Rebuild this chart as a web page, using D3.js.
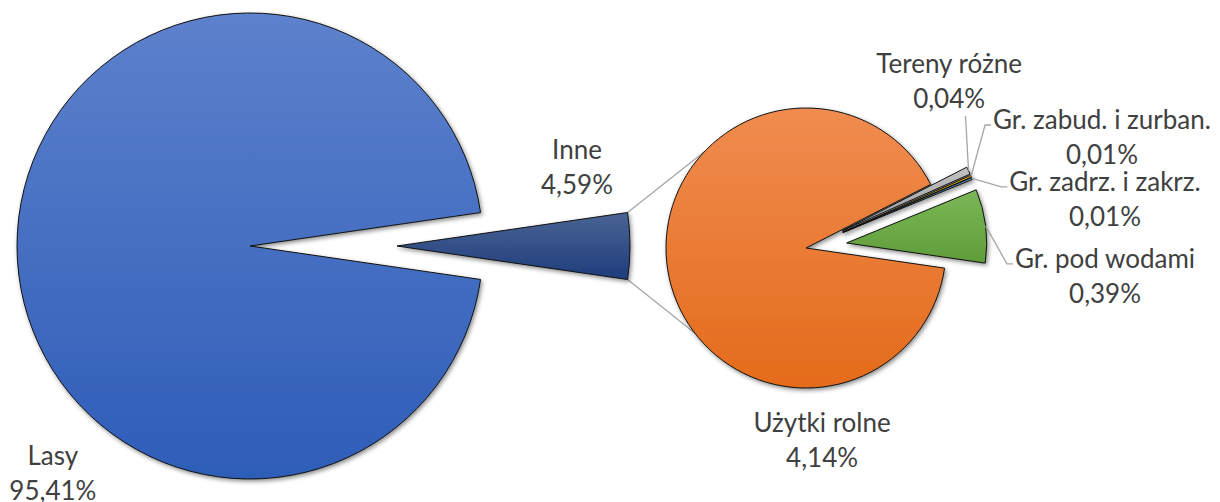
<!DOCTYPE html>
<html>
<head>
<meta charset="utf-8">
<script src="https://cdn.jsdelivr.net/npm/d3@7"></script>
<style>
html, body { margin: 0; padding: 0; background: #fff; }
svg { display: block; font-family: Lato, "Open Sans", sans-serif; }
</style>
</head>
<body>
<svg id="chart" width="1220" height="502"></svg>
<script>
// main pie
var mainNames = ["Lasy", "Inne"];
var mainValues = [95.41, 4.59];

// split of "Inne" shown in the second pie
var subNames = ["Użytki rolne", "Tereny różne", "Gr. zabud. i zurban.", "Gr. zadrz. i zakrz.", "Gr. pod wodami"];
var subValues = [4.14, 0.04, 0.01, 0.01, 0.39];

// gradient stops (top, bottom)
var mainColors = [["#5d81cc", "#2e5db8"], ["#4a6394", "#1e3d7c"]];
var subColors = [["#f08c50", "#e46b1b"], ["#c2c2c2", "#9a9a9a"], ["#ffc000", "#e0a800"],
                 ["#5b9bd5", "#3c78b4"], ["#7bb757", "#5f9d3a"]];

// layout
var mainCenter = [250, 246], mainR = 233, mainExplode = [0, 147];
var subCenter = [806, 248], subR = 140, subExplode = [0, 40, 40, 40, 41];
var connectorAngles = [313.6, 232.6]; // where the grey lines meet the second pie
// label anchor: polar position (deg, px) from the pie centre
var mainLabelPos = [[222, 294.6], [75.1, 338.4]];
var subLabelPos = [[175, 184.7], [39.3, 226], [68.1, 319], [79.2, 304.4], [93.8, 299.7]];
var subLeader = [null, "bottom", "left", "left", "left"];

var lineGap = 35;
var fmt = function(v) { return d3.format(".2f")(v).replace(".", ",") + "%"; };
var rad = Math.PI / 180;

var svg = d3.select("#chart");
var defs = svg.append("defs");

var shadow = defs.append("filter").attr("id", "shadow")
    .attr("x", "-20%").attr("y", "-20%").attr("width", "140%").attr("height", "140%");
shadow.append("feDropShadow")
    .attr("dx", 1.5).attr("dy", 2).attr("stdDeviation", 2.2)
    .attr("flood-color", "#000").attr("flood-opacity", 0.45);

function gradient(id, stops) {
    var g = defs.append("linearGradient").attr("id", id)
        .attr("x1", 0).attr("y1", 0).attr("x2", 0).attr("y2", 1);
    g.append("stop").attr("offset", "0%").attr("stop-color", stops[0]);
    g.append("stop").attr("offset", "100%").attr("stop-color", stops[1]);
    return "url(#" + id + ")";
}

// both pies start where "Inne" ends, so "Inne" sits centred on the right
var start = Math.PI / 2 + (mainValues[1] / d3.sum(mainValues)) * Math.PI;

var pie = d3.pie().sort(null).value(function(d) { return d; })
    .startAngle(start).endAngle(start + 2 * Math.PI);

var mainArcs = pie(mainValues);
var subArcs = pie(subValues);

function offset(d, dist) {
    var a = (d.startAngle + d.endAngle) / 2;
    return [dist * Math.sin(a), -dist * Math.cos(a)];
}
function polar(c, deg, r) {
    return [c[0] + r * Math.sin(deg * rad), c[1] - r * Math.cos(deg * rad)];
}

var mainArc = d3.arc().innerRadius(0).outerRadius(mainR);
var subArc = d3.arc().innerRadius(0).outerRadius(subR);

// connector lines from "Inne" to the second pie
var inne = mainArcs[1];
var inneOff = offset(inne, mainExplode[1]);
var inneCorners = [inne.startAngle, inne.endAngle].map(function(a) {
    return [mainCenter[0] + inneOff[0] + mainR * Math.sin(a), mainCenter[1] + inneOff[1] - mainR * Math.cos(a)];
});
// top corner is the one with the smaller y
inneCorners.sort(function(a, b) { return a[1] - b[1]; });

svg.append("g").selectAll("line")
    .data(connectorAngles)
    .join("line")
    .attr("x1", function(d, i) { return inneCorners[i][0]; })
    .attr("y1", function(d, i) { return inneCorners[i][1]; })
    .attr("x2", function(d) { return polar(subCenter, d, subR)[0]; })
    .attr("y2", function(d) { return polar(subCenter, d, subR)[1]; })
    .attr("stroke", "#a6a6a6").attr("stroke-width", 1.3);

// main pie slices
svg.append("g").selectAll("path")
    .data(mainArcs)
    .join("path")
    .attr("transform", function(d, i) {
        var o = offset(d, mainExplode[i]);
        return "translate(" + (mainCenter[0] + o[0]) + "," + (mainCenter[1] + o[1]) + ")";
    })
    .attr("d", mainArc)
    .attr("fill", function(d, i) { return gradient("gm" + i, mainColors[i]); })
    .attr("stroke", "#111").attr("stroke-width", 1)
    .attr("filter", "url(#shadow)");

// second pie slices
svg.append("g").selectAll("path")
    .data(subArcs)
    .join("path")
    .attr("transform", function(d, i) {
        var o = offset(d, subExplode[i]);
        return "translate(" + (subCenter[0] + o[0]) + "," + (subCenter[1] + o[1]) + ")";
    })
    .attr("d", subArc)
    .attr("fill", function(d, i) { return gradient("gs" + i, subColors[i]); })
    .attr("stroke", "#111").attr("stroke-width", 1)
    .attr("filter", "url(#shadow)");

// labels
function addLabel(g, pos, name, value) {
    var t = g.append("text")
        .attr("text-anchor", "middle")
        .attr("fill", "#404040")
        .style("font-size", "26px");
    t.append("tspan").attr("x", pos[0]).attr("y", pos[1]).text(name);
    t.append("tspan").attr("x", pos[0]).attr("y", pos[1] + lineGap).text(fmt(value));
    return t;
}

var labels = svg.append("g");
mainNames.forEach(function(n, i) {
    addLabel(labels, polar(mainCenter, mainLabelPos[i][0], mainLabelPos[i][1]), n, mainValues[i]);
});

var leaders = svg.insert("g", "g:last-child");
subNames.forEach(function(n, i) {
    var pos = polar(subCenter, subLabelPos[i][0], subLabelPos[i][1]);
    var t = addLabel(labels, pos, n, subValues[i]);
    if (!subLeader[i]) return;

    var d = subArcs[i];
    var o = offset(d, subExplode[i]);
    var mid = (d.startAngle + d.endAngle) / 2;
    var s = [subCenter[0] + o[0] + subR * Math.sin(mid), subCenter[1] + o[1] - subR * Math.cos(mid)];
    var box = t.node().getBBox();
    var pts;
    if (subLeader[i] === "bottom") {
        pts = [s, [s[0] - 3, box.y + box.height + 2]];
    } else {
        var y = pos[1] - 4;
        pts = [s, [box.x - 8, y], [box.x - 2, y]];
    }
    leaders.append("path")
        .attr("d", d3.line()(pts))
        .attr("fill", "none")
        .attr("stroke", "#a6a6a6").attr("stroke-width", 1.3);
});
</script>
</body>
</html>
